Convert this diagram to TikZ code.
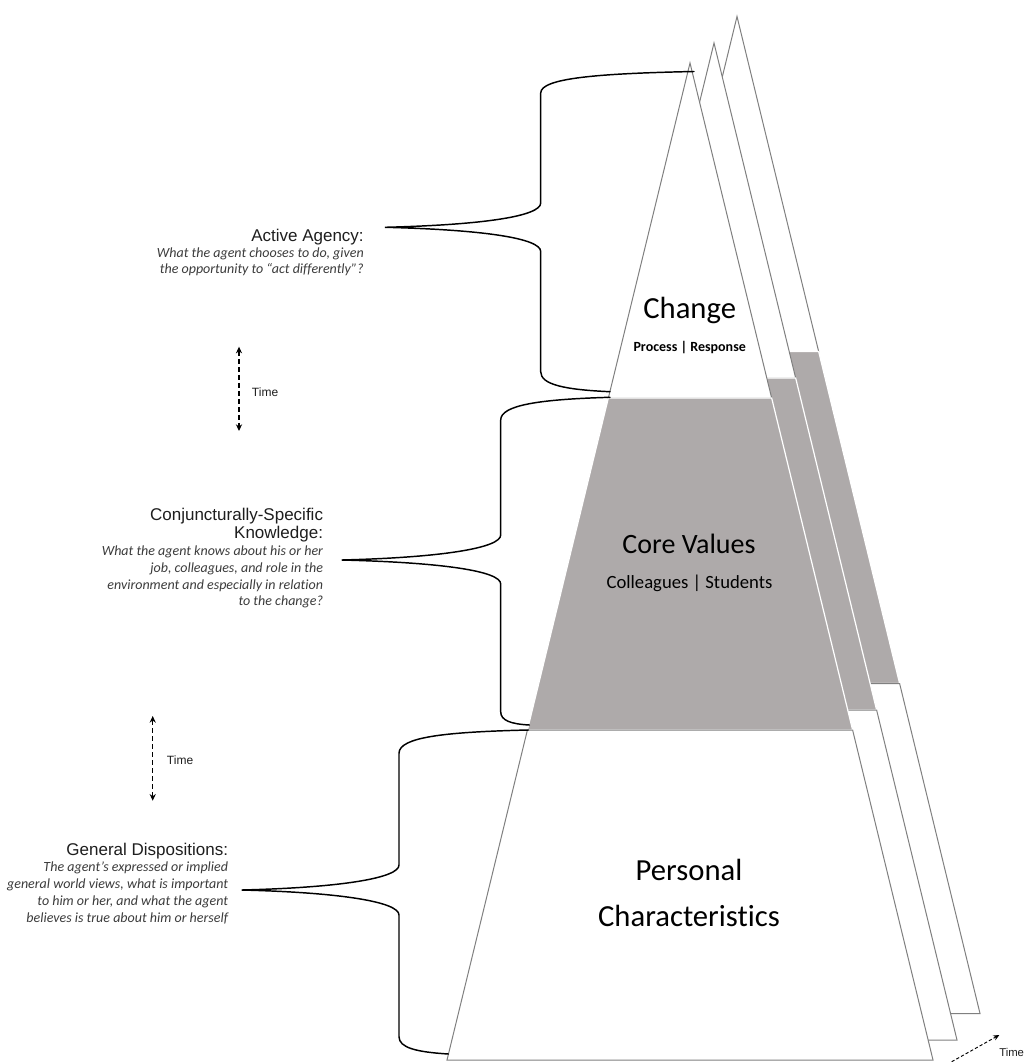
\documentclass[tikz,border=0pt]{standalone}
\usepackage{fontspec}
\setmainfont{Carlito}[Ligatures={TeX,NoCommon}]
\newfontfamily\arialfont{Liberation Sans}
\usetikzlibrary{arrows.meta,calc}

\definecolor{bandgray}{RGB}{174,170,170}
\definecolor{edgegray}{RGB}{128,128,128}
\definecolor{notegray}{RGB}{60,60,60}
\definecolor{headgray}{RGB}{30,30,30}

% One pyramid: a white apex, a grey middle band and a white base
\newcommand{\layeredpyramid}{%
  \draw[lighttier] (690,63) -- (608.35,398) -- (771.65,398) -- cycle;
  \draw[midtier]   (608.35,398) -- (771.65,398) -- (852.6,730) -- (527.4,730) -- cycle;
  \draw[lighttier] (527.4,730) -- (852.6,730) -- (933,1060) -- (447,1060) -- cycle;
}

\begin{document}
\begin{tikzpicture}[x=0.75pt,y=-0.75pt,
  lighttier/.style={fill=white, draw=edgegray, line width=0.75pt},
  midtier/.style={fill=bandgray, draw=white, line width=0.9pt},
  bracket/.style={draw=black, line width=1.1pt, line cap=round},
  heading/.style={font=\arialfont\fontsize{12.75}{15}\selectfont, text=headgray, anchor=base east, inner sep=0pt},
  note/.style={font=\itshape\fontsize{10.5}{12.6}\selectfont, text=notegray, anchor=base east, inner sep=0pt},
  bigtitle/.style={font=\fontsize{23}{27}\selectfont, anchor=base, inner sep=0pt},
  timelabel/.style={font=\arialfont\fontsize{9}{11}\selectfont, text=headgray, anchor=base west, inner sep=0pt},
  timearrow/.style={line width=0.8pt, dash pattern=on 3.6pt off 2.4pt,
    {Stealth[length=5pt,width=4.6pt]}-{Stealth[length=5pt,width=4.6pt]}},
]
\fill[white] (0,0) rectangle (1023,1062);
\useasboundingbox (0,0) rectangle (1023,1062);

% stacked pyramids, the later ones in front
\begin{scope}[shift={(47,-46.5)}]\layeredpyramid\end{scope}
\begin{scope}[shift={(24,-20)}]\layeredpyramid\end{scope}
\layeredpyramid

% tier titles
\node[bigtitle] (change) at (689.7,318.3) {Change};
\node[font=\bfseries\fontsize{10.5}{12}\selectfont, anchor=base, inner sep=0pt] (changesub) at (689.7,351.7) {Process | Response};
\node[font=\fontsize{21}{25}\selectfont, anchor=base, inner sep=0pt] (core) at (689,553) {Core Values};
\node[font=\fontsize{14}{17}\selectfont, anchor=base, inner sep=0pt] (coresub) at (689.5,588) {Colleagues | Students};
\node[bigtitle] (pers1) at (689,880) {Personal};
\node[bigtitle] (pers2) at (689,926.7) {Characteristics};

% left-hand descriptions
\node[heading] (aa0) at (364,241.7) {Active Agency:};
\node[note] (aa1) at (364,257.3) {What the agent chooses to do, given};
\node[note] (aa2) at (364,274) {the opportunity to “act differently”?};

\node[heading] (ck0) at (323.3,520) {Conjuncturally-Specific};
\node[heading] (ck1) at (323.3,538) {Knowledge:};
\node[note] (ck2) at (323.3,555) {What the agent knows about his or her};
\node[note] (ck3) at (323.3,572) {job, colleagues, and role in the};
\node[note] (ck4) at (323.3,589) {environment and especially in relation};
\node[note] (ck5) at (323.3,605.5) {to the change?};

\node[heading] (gd0) at (228.3,855.7) {General Dispositions:};
\node[note] (gd1) at (228.3,871.7) {The agent’s expressed or implied};
\node[note] (gd2) at (228.3,888.3) {general world views, what is important};
\node[note] (gd3) at (228.3,905) {to him or her, and what the agent};
\node[note] (gd4) at (228.3,922) {believes is true about him or herself};

% braces
\coordinate (b1top) at (694,71.5);
\coordinate (b1tip) at (385,227.3);
\coordinate (b1bot) at (610,391.7);
\draw[bracket] (b1top) .. controls +(-95,2) and +(0,-15) .. (540.7,93) -- (540.7,203)
  .. controls +(0,13) and +(100,-2.5) .. (b1tip)
  .. controls +(100,2.5) and +(0,-13) .. (540.7,251.5) -- (540.7,371.7)
  .. controls +(0,13) and +(-45,-2) .. (b1bot);

\coordinate (b2top) at (610,397.3);
\coordinate (b2tip) at (341.7,560);
\coordinate (b2bot) at (529.3,725);
\draw[bracket] (b2top) .. controls +(-70,2) and +(0,-15) .. (500.7,420) -- (500.7,535)
  .. controls +(0,13) and +(100,-2.5) .. (b2tip)
  .. controls +(100,2.5) and +(0,-13) .. (500.7,584) -- (500.7,711.7)
  .. controls +(0,9) and +(-18,-1) .. (b2bot);

\coordinate (b3top) at (528.3,730);
\coordinate (b3tip) at (241.7,890);
\coordinate (b3bot) at (448.3,1054);
\draw[bracket] (b3top) .. controls +(-85,2) and +(0,-16) .. (399,753.3) -- (399,865)
  .. controls +(0,13) and +(100,-2.5) .. (b3tip)
  .. controls +(100,2.5) and +(0,-13) .. (399,915) -- (399,1036.7)
  .. controls +(0,11) and +(-32,-2) .. (b3bot);

% time arrows
\coordinate (t1a) at (239,346.7);
\coordinate (t1b) at (239,431);
\draw[timearrow] (t1a) -- (t1b);
\node[timelabel] (t1) at (251.7,396) {Time};

\coordinate (t2a) at (152.7,716);
\coordinate (t2b) at (152.7,800.7);
\draw[timearrow] (t2a) -- (t2b);
\node[timelabel] (t2) at (166.7,764.3) {Time};

\coordinate (t3a) at (951.7,1061.7);
\coordinate (t3b) at (999.3,1035);
\draw[line width=0.7pt, dash pattern=on 2.4pt off 1.6pt, -{Stealth[length=4.5pt,width=4pt]}] (t3a) -- (t3b);
\node[timelabel, font=\arialfont\fontsize{8.5}{10}\selectfont] (t3) at (999,1056) {Time};
\end{tikzpicture}
\end{document}
